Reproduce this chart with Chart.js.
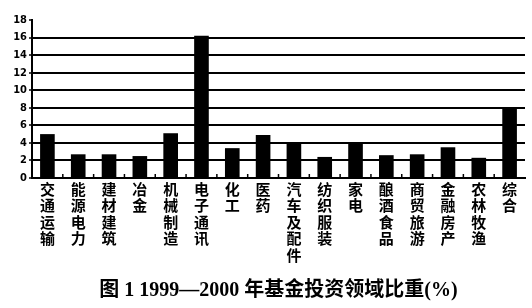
<!DOCTYPE html>
<html><head><meta charset="utf-8">
<script src="https://cdn.jsdelivr.net/npm/chart.js@4"></script>
<style>html,body{margin:0;padding:0;background:#fff;}canvas{display:block;}</style>
</head><body>
<canvas id="c" width="532" height="308"></canvas>
<script>
const categories = ["交通运输","能源电力","建材建筑","冶金","机械制造","电子通讯","化工","医药","汽车及配件","纺织服装","家电","酿酒食品","商贸旅游","金融房产","农林牧渔","综合"];
const values = [5.0, 2.7, 2.7, 2.5, 5.1, 16.2, 3.4, 4.9, 4.0, 2.4, 4.0, 2.6, 2.7, 3.5, 2.3, 8.0];
const yTicks = [0,2,4,6,8,10,12,14,16,18];
const titleText = "图 1 1999—2000 年基金投资领域比重(%)";

const boundaryTicks = {
  id: 'boundaryTicks',
  afterDatasetsDraw(chart) {
    const x = chart.scales.x, ctx = chart.ctx, b = chart.chartArea.bottom;
    ctx.save(); ctx.strokeStyle = '#000'; ctx.lineWidth = 1.5;
    for (let i = 0; i < categories.length - 1; i++) {
      const px = (x.getPixelForValue(i) + x.getPixelForValue(i + 1)) / 2;
      ctx.beginPath(); ctx.moveTo(px, b); ctx.lineTo(px, b - 4); ctx.stroke();
    }
    ctx.restore();
  }
};

new Chart(document.getElementById('c'), {
  type: 'bar',
  data: {
    labels: categories.map(s => s.split('')),
    datasets: [{ data: values, backgroundColor: '#000', borderWidth: 0, barPercentage: 0.95, categoryPercentage: 0.5 }]
  },
  options: {
    responsive: false, animation: false, devicePixelRatio: 1,
    layout: { padding: { top: 20, right: 7, left: 0, bottom: 0 } },
    plugins: {
      legend: { display: false }, tooltip: { enabled: false },
      title: { display: true, position: 'bottom', fullSize: false, text: titleText, color: '#000',
        font: { family: "'Liberation Serif','Noto Sans CJK SC'", size: 20, weight: 'bold' },
        padding: { top: 2, bottom: 5 } }
    },
    scales: {
      x: {
        grid: { display: false, drawTicks: false },
        border: { color: '#000', width: 2 },
        ticks: { color: '#000', autoSkip: false, maxRotation: 0, minRotation: 0, padding: 3,
          font: { family: "'Noto Sans CJK SC'", size: 15, weight: 'bold', lineHeight: 1.1 } },
        afterFit(s) { s.height = 99; }
      },
      y: {
        min: 0, max: 18,
        afterBuildTicks(s) { s.ticks = yTicks.map(v => ({ value: v })); },
        grid: { color: c => (c.tick && (c.tick.value === 18 || c.tick.value === 0)) ? 'rgba(0,0,0,0)' : '#000',
          lineWidth: 2, tickColor: '#000', tickLength: 3, tickWidth: 1.5 },
        border: { color: '#000', width: 2 },
        ticks: { color: '#000', padding: 2,
          font: { family: "'Liberation Sans Narrow','DejaVu Sans Condensed'", size: 11, weight: 'bold' } },
        afterFit(s) { s.width = 32; }
      }
    }
  },
  plugins: [boundaryTicks]
});
</script>
</body></html>
